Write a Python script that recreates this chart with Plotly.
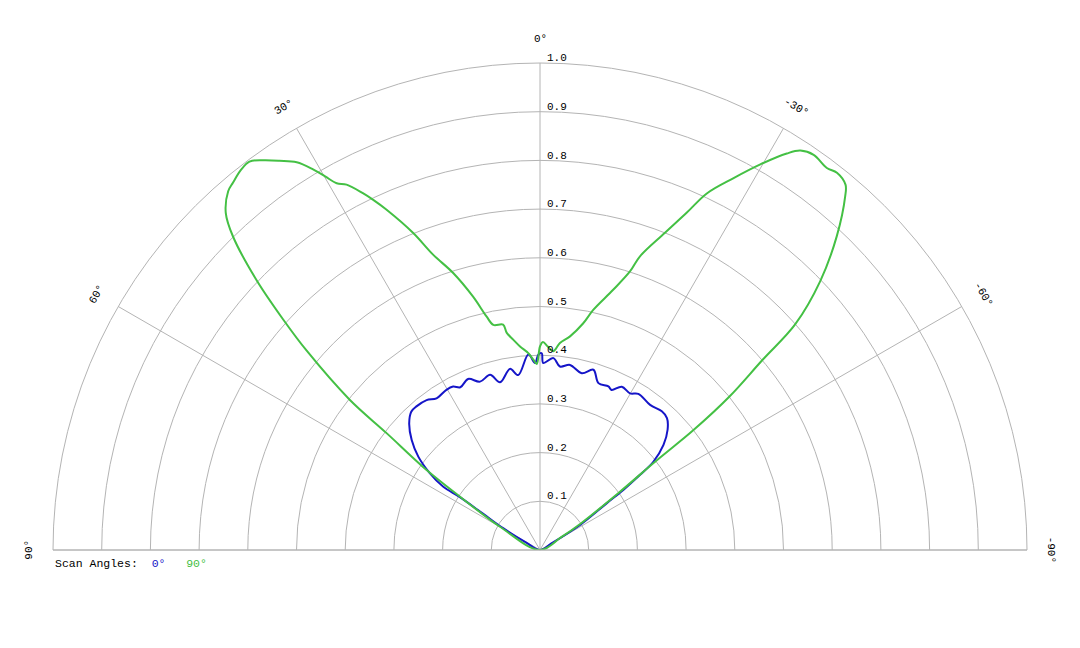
import math

import plotly.graph_objects as go

# scan at 0 deg (blue) - traced as a path of (angle, intensity)
theta_0 = [-60, -60, -58, -55, -54.2, -53.1, -52.1, -49.6, -46.7, -43.9, -41.3,
           -37.2, -32.2, -29.9, -26.6, -24.1, -22.7, -19.3, -16.5, -13.3, -9.2,
           -6.2, -4.0, -1.0, -0.5, 0.5, 1.5, 3.4, 7.1, 9.4, 13.4, 15.9, 19.6,
           22.8, 26.1, 28.0, 30.3, 34.3, 37.1, 40.7, 42.9, 45.9, 49.4, 52.5,
           55.1, 56.8, 56.6, 57.5, 59.4, 62, 62]
r_0 = [0.0, 0.03, 0.097, 0.167, 0.211, 0.257, 0.295, 0.333, 0.360, 0.376,
       0.379, 0.374, 0.379, 0.371, 0.375, 0.360, 0.364, 0.363, 0.386, 0.373,
       0.385, 0.379, 0.395, 0.384, 0.404, 0.401, 0.384, 0.402, 0.362, 0.377,
       0.354, 0.374, 0.367, 0.381, 0.372, 0.380, 0.381, 0.377, 0.386, 0.389,
       0.388, 0.374, 0.347, 0.315, 0.276, 0.238, 0.198, 0.139, 0.088, 0.031,
       0.0]

# scan at 90 deg (green)
theta_90 = [-60, -59, -57, -54, -52.5, -52, -51, -49.5, -48.5, -46.2, -43.4,
            -40.8, -39.9, -38.2, -36.9, -34.7, -33.1, -31.9, -29.7, -27.5,
            -25.1, -23.5, -21.5, -18.8, -17.9, -15.7, -12.5, -10.8, -8.0, -5.5,
            -3.8, -2.2, -0.8, 0, 1.0, 2.0, 3.4, 5.6, 7.2, 8.7, 9.3, 11.7, 12.9,
            14.8, 17.4, 19.9, 21.8, 24.3, 25.5, 26.4, 27.9, 29.0, 29.9, 30.8,
            32.1, 33.8, 35.4, 36.8, 38.2, 39.9, 41.0, 43.0, 44.4, 46.4, 48.1,
            49.5, 51.7, 52.7, 54.8, 56.3, 59.8, 62]
r_90 = [0.0, 0.05, 0.10, 0.20, 0.30, 0.40, 0.50, 0.60, 0.70, 0.797, 0.887,
        0.959, 0.978, 0.986, 0.981, 0.987, 0.979, 0.959, 0.911, 0.861, 0.809,
        0.755, 0.700, 0.637, 0.601, 0.555, 0.505, 0.474, 0.443, 0.427, 0.409,
        0.418, 0.427, 0.418, 0.382, 0.391, 0.405, 0.420, 0.435, 0.451, 0.469,
        0.472, 0.492, 0.538, 0.596, 0.645, 0.701, 0.767, 0.797, 0.818, 0.849,
        0.861, 0.885, 0.910, 0.940, 0.962, 0.982, 0.996, 0.993, 0.983, 0.976,
        0.946, 0.901, 0.804, 0.708, 0.63, 0.498, 0.396, 0.285, 0.198, 0.095,
        0.0]

angle_ticks = [-90, -60, -30, 0, 30, 60, 90]
radial_ticks = [0.1, 0.2, 0.3, 0.4, 0.5, 0.6, 0.7, 0.8, 0.9, 1.0]

BLUE = "#1515c8"
GREEN = "#44c044"
GRID = "#b4b4b4"
MONO = "Courier New, Liberation Mono, monospace"

fig = go.Figure()
fig.add_trace(go.Scatterpolar(
    theta=theta_0, r=r_0, mode="lines", name="0°",
    line=dict(color=BLUE, width=2, shape="spline", smoothing=1.0),
))
fig.add_trace(go.Scatterpolar(
    theta=theta_90, r=r_90, mode="lines", name="90°",
    line=dict(color=GREEN, width=2, shape="spline", smoothing=1.0),
))

# angle labels, rotated along the rim
for a in angle_ticks:
    phi = math.radians(90 + a)
    fig.add_annotation(
        xref="paper", yref="paper",
        x=0.5 + 0.5 * 1.05 * math.cos(phi), y=1.05 * math.sin(phi),
        xanchor="center", yanchor="middle",
        text=f"{a}°", showarrow=False, textangle=-a,
        font=dict(family=MONO, size=11, color="black"),
    )

# radial labels kept upright, just right of the 0° spoke
for v in radial_ticks:
    fig.add_annotation(
        xref="paper", yref="paper", x=0.505, y=v + 0.01,
        xanchor="left", yanchor="middle", showarrow=False,
        text=f"{v:.1f}", font=dict(family=MONO, size=11, color="black"),
    )

fig.add_annotation(
    xref="paper", yref="paper", x=0.0, y=-0.027,
    xanchor="left", yanchor="middle", showarrow=False,
    text=(f"Scan Angles:  <span style='color:{BLUE}'>0°</span>"
          f"   <span style='color:{GREEN}'>90°</span>"),
    font=dict(family=MONO, size=11.5, color="black"),
)

fig.update_layout(
    width=1080, height=648,
    margin=dict(l=45, r=61, t=55, b=106),
    paper_bgcolor="white",
    showlegend=False,
    polar=dict(
        domain=dict(x=[0, 1], y=[0, 1]),
        sector=[0, 180],
        bgcolor="white",
        angularaxis=dict(
            rotation=90, direction="counterclockwise",
            tickmode="array", tickvals=angle_ticks,
            showticklabels=False, ticks="",
            showgrid=True, gridcolor=GRID, gridwidth=1,
            showline=True, linecolor=GRID, linewidth=1,
        ),
        radialaxis=dict(
            range=[0, 1], angle=90,
            tickmode="array", tickvals=radial_ticks,
            showticklabels=False, ticks="", showline=False,
            showgrid=True, gridcolor=GRID, gridwidth=1,
        ),
    ),
)

fig.write_html("out.html")
